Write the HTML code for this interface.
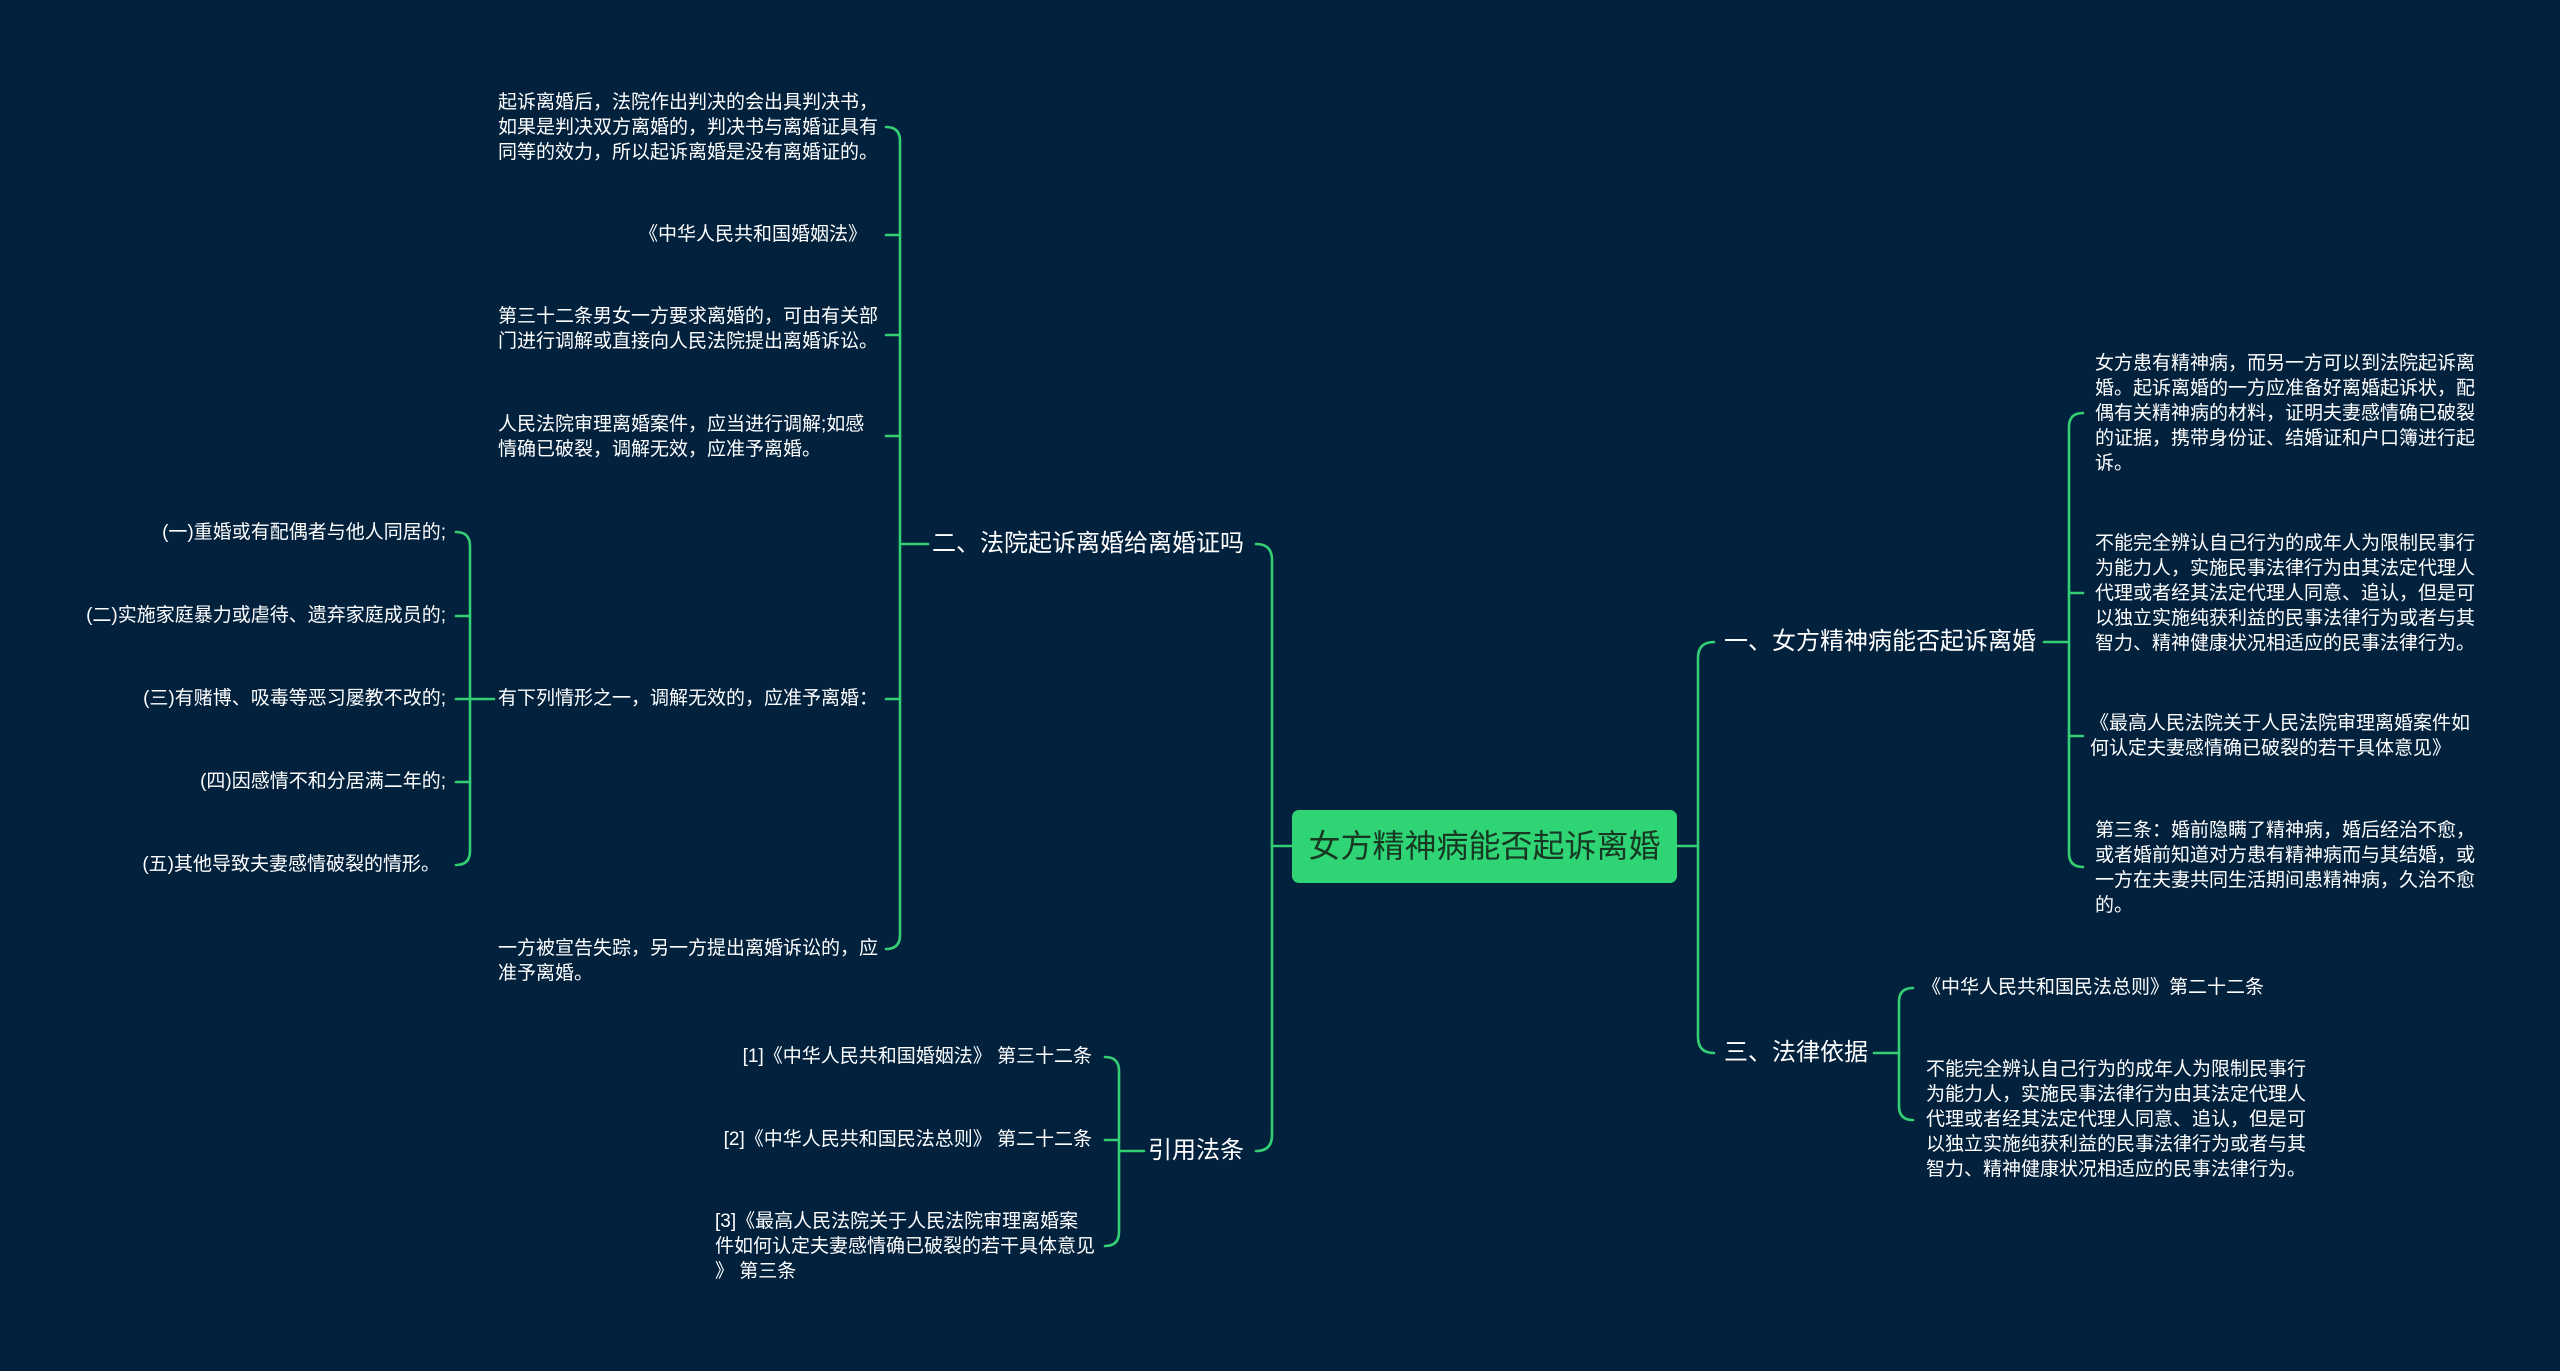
<!DOCTYPE html>
<html><head><meta charset="utf-8"><style>
html,body{margin:0;padding:0;}
body{width:2560px;height:1371px;background:#02213d;position:relative;overflow:hidden;font-family:"Liberation Sans","Noto Sans CJK SC",sans-serif;color:#fff;}
.t{position:absolute;font-size:19px;line-height:25px;white-space:nowrap;}
.b{position:absolute;font-size:24px;line-height:30px;white-space:nowrap;}
.r{text-align:right;}
svg{position:absolute;left:0;top:0;}
</style></head><body>
<svg width="2560" height="1371" fill="none" stroke="#34cf74" stroke-width="2.6" stroke-linecap="round">
<!-- root box -->
<rect x="1292" y="810" width="385" height="73" rx="7" fill="#2fd475" stroke="none"/>
<!-- right from root -->
<path d="M1677 846 L1698 846"/>
<path d="M1714 642 Q1698 642 1698 658 L1698 1037 Q1698 1053 1714 1053"/>
<!-- left from root -->
<path d="M1292 846 L1272 846"/>
<path d="M1256 544 Q1272 544 1272 560 L1272 1135 Q1272 1151 1256 1151"/>
<!-- branch 一 bracket -->
<path d="M2044 642 L2069 642"/>
<path d="M2083 413 Q2069 413 2069 427 L2069 853 Q2069 867 2083 867"/>
<path d="M2069 593 L2083 593"/><path d="M2069 736 L2083 736"/>
<!-- branch 三 bracket -->
<path d="M1874 1053 L1899 1053"/>
<path d="M1913 988 Q1899 988 1899 1002 L1899 1106 Q1899 1120 1913 1120"/>
<!-- branch 二 bracket -->
<path d="M928 544 L900 544"/>
<path d="M886 127 Q900 127 900 141 L900 935 Q900 949 886 949"/>
<path d="M900 235 L886 235"/><path d="M900 335 L886 335"/><path d="M900 436 L886 436"/><path d="M900 699 L886 699"/>
<!-- c5 bracket -->
<path d="M494 699 L470 699"/>
<path d="M456 532 Q470 532 470 546 L470 851 Q470 865 456 865"/>
<path d="M470 616 L456 616"/><path d="M470 699 L456 699"/><path d="M470 782 L456 782"/>
<!-- 引用 bracket -->
<path d="M1144 1151 L1119 1151"/>
<path d="M1105 1057 Q1119 1057 1119 1071 L1119 1232 Q1119 1246 1105 1246"/>
<path d="M1119 1140 L1105 1140"/>
</svg>

<div class="b" style="left:1292px;top:810px;width:385px;height:73px;line-height:73px;text-align:center;font-size:32px;color:#173822;">女方精神病能否起诉离婚</div>

<div class="b" style="left:1724px;top:627px;">一、女方精神病能否起诉离婚</div>
<div class="b" style="left:1724px;top:1038px;">三、法律依据</div>
<div class="b r" style="right:1316px;top:529px;">二、法院起诉离婚给离婚证吗</div>
<div class="b r" style="right:1316px;top:1136px;">引用法条</div>

<div class="t" style="left:2095px;top:351px;">女方患有精神病，而另一方可以到法院起诉离<br>婚。起诉离婚的一方应准备好离婚起诉状，配<br>偶有关精神病的材料，证明夫妻感情确已破裂<br>的证据，携带身份证、结婚证和户口簿进行起<br>诉。</div>
<div class="t" style="left:2095px;top:531px;">不能完全辨认自己行为的成年人为限制民事行<br>为能力人，实施民事法律行为由其法定代理人<br>代理或者经其法定代理人同意、追认，但是可<br>以独立实施纯获利益的民事法律行为或者与其<br>智力、精神健康状况相适应的民事法律行为。</div>
<div class="t" style="left:2090px;top:711px;">《最高人民法院关于人民法院审理离婚案件如<br>何认定夫妻感情确已破裂的若干具体意见》</div>
<div class="t" style="left:2095px;top:818px;">第三条：婚前隐瞒了精神病，婚后经治不愈，<br>或者婚前知道对方患有精神病而与其结婚，或<br>一方在夫妻共同生活期间患精神病，久治不愈<br>的。</div>

<div class="t" style="left:1922px;top:975px;">《中华人民共和国民法总则》第二十二条</div>
<div class="t" style="left:1926px;top:1057px;">不能完全辨认自己行为的成年人为限制民事行<br>为能力人，实施民事法律行为由其法定代理人<br>代理或者经其法定代理人同意、追认，但是可<br>以独立实施纯获利益的民事法律行为或者与其<br>智力、精神健康状况相适应的民事法律行为。</div>

<div class="t" style="left:498px;top:90px;">起诉离婚后，法院作出判决的会出具判决书，<br>如果是判决双方离婚的，判决书与离婚证具有<br>同等的效力，所以起诉离婚是没有离婚证的。</div>
<div class="t r" style="right:1693px;top:222px;">《中华人民共和国婚姻法》</div>
<div class="t" style="left:498px;top:304px;">第三十二条男女一方要求离婚的，可由有关部<br>门进行调解或直接向人民法院提出离婚诉讼。</div>
<div class="t" style="left:498px;top:412px;">人民法院审理离婚案件，应当进行调解;如感<br>情确已破裂，调解无效，应准予离婚。</div>
<div class="t" style="left:498px;top:686px;">有下列情形之一，调解无效的，应准予离婚：</div>
<div class="t" style="left:498px;top:936px;">一方被宣告失踪，另一方提出离婚诉讼的，应<br>准予离婚。</div>

<div class="t r" style="right:2114px;top:520px;">(一)重婚或有配偶者与他人同居的;</div>
<div class="t r" style="right:2114px;top:603px;">(二)实施家庭暴力或虐待、遗弃家庭成员的;</div>
<div class="t r" style="right:2114px;top:686px;">(三)有赌博、吸毒等恶习屡教不改的;</div>
<div class="t r" style="right:2114px;top:769px;">(四)因感情不和分居满二年的;</div>
<div class="t r" style="right:2120px;top:852px;">(五)其他导致夫妻感情破裂的情形。</div>

<div class="t r" style="right:1468px;top:1044px;">[1]《中华人民共和国婚姻法》 第三十二条</div>
<div class="t r" style="right:1468px;top:1127px;">[2]《中华人民共和国民法总则》 第二十二条</div>
<div class="t" style="left:715px;top:1209px;">[3]《最高人民法院关于人民法院审理离婚案<br>件如何认定夫妻感情确已破裂的若干具体意见<br>》 第三条</div>
</body></html>
